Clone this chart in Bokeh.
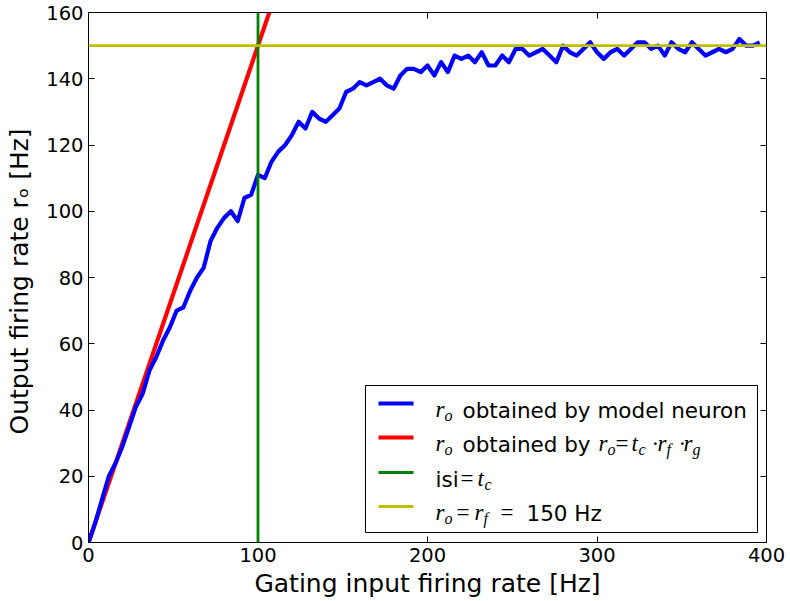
from bokeh.plotting import figure
from bokeh.models import (Range1d, LinearAxis, SingleIntervalTicker, Span, Label,
                          BoxAnnotation)
from bokeh.embed import file_html
from bokeh.resources import INLINE

# ---------------- data ----------------
gating_rate = [0, 4, 8, 12, 16, 20, 24, 28, 32, 36, 40, 44, 48, 52, 56, 60, 64, 68, 72, 76,
               80, 84, 88, 92, 96, 100, 104, 108, 112, 116, 120, 124, 128, 132, 136, 140,
               144, 148, 152, 156, 160, 164, 168, 172, 176, 180, 184, 188, 192, 196, 200,
               204, 208, 212, 216, 220, 224, 228, 232, 236, 240, 244, 248, 252, 256, 260,
               264, 268, 272, 276, 280, 284, 288, 292, 296, 300, 304, 308, 312, 316, 320,
               324, 328, 332, 336, 340, 344, 348, 352, 356, 360, 364, 368, 372, 376, 380,
               384, 388, 392, 396]
model_rate = [0, 6, 13, 20, 24, 29, 35, 41, 45, 52, 56, 61, 65, 70, 71, 76, 80, 83, 91, 95,
              98, 100, 97, 104, 105, 111, 110, 115, 118, 120, 123, 127, 125, 130, 128, 127,
              129, 131, 136, 137, 139, 138, 139, 140, 138, 137, 141, 143, 143, 142, 144,
              141, 145, 142, 147, 146, 147, 145, 148, 144, 144, 147, 145, 149, 149, 147,
              148, 149, 147, 145, 150, 148, 147, 149, 151, 148, 146, 148, 149, 147, 149,
              151, 151, 149, 150, 147, 151, 149, 148, 151, 149, 147, 148, 149, 148, 149,
              152, 150, 150, 151]
theory_x = [0, 400]
theory_y = [0, 600]
isi_rate = 100      # isi = t_c  -> 100 Hz
rf_rate = 150       # r_o = r_f = 150 Hz
x_ticks_interval = 100
y_ticks_interval = 20

# ---------------- figure ----------------
FL, FB = 88, 542   # frame left / bottom in page pixels (for legend placement)

p = figure(frame_width=678, frame_height=530, output_backend="svg", toolbar_location=None,
           x_range=Range1d(0, 400), y_range=Range1d(0, 160),
           min_border_left=88, min_border_right=24, min_border_top=12, min_border_bottom=59,
           background_fill_color="white", border_fill_color="white")
p.xgrid.visible = False
p.ygrid.visible = False
p.outline_line_color = "black"
p.outline_line_width = 1
p.outline_line_alpha = 1

TICK_FONT = "19.5px"
for ax in (p.xaxis[0], p.yaxis[0]):
    ax.major_tick_in = 6
    ax.major_tick_out = 0
    ax.minor_tick_line_color = None
    ax.major_label_text_font = "DejaVu Sans"
    ax.major_label_text_font_size = TICK_FONT
    ax.major_label_text_color = "black"
    ax.axis_line_color = "black"
    ax.major_tick_line_color = "black"
    ax.axis_label_text_font = "DejaVu Sans"
    ax.axis_label_text_font_size = "25px"
    ax.axis_label_text_font_style = "normal"
    ax.axis_label_text_color = "black"
    ax.major_label_standoff = 5

p.xaxis[0].ticker = SingleIntervalTicker(interval=x_ticks_interval, num_minor_ticks=0)
p.yaxis[0].ticker = SingleIntervalTicker(interval=y_ticks_interval, num_minor_ticks=0)
p.xaxis[0].axis_label = "Gating input firing rate [Hz]"
p.yaxis[0].axis_label = "Output firing rate r\u2092  [Hz]"
p.xaxis[0].axis_label_standoff = 4
p.yaxis[0].axis_label_standoff = 9

# tick marks (inward, no labels) on the top and right edges of the frame
for loc, iv in (("right", y_ticks_interval), ("above", x_ticks_interval)):
    ax = LinearAxis(ticker=SingleIntervalTicker(interval=iv, num_minor_ticks=0),
                    major_tick_in=6, major_tick_out=0, minor_tick_line_color=None,
                    major_label_text_color=None, major_label_text_font_size="1px",
                    major_label_standoff=0,
                    axis_line_color="black", major_tick_line_color="black")
    p.add_layout(ax, loc)

# ---------------- data lines ----------------
p.line(theory_x, theory_y, line_color="#ff0000", line_width=4.2, line_join="round")
p.line(gating_rate, model_rate, line_color="#0000ff", line_width=4.2, line_join="round")
p.add_layout(Span(location=isi_rate, dimension="height", line_color="#008000", line_width=2.8))
p.add_layout(Span(location=rf_rate, dimension="width", line_color="#bfbf00", line_width=2.8))

# ---------------- legend (built from annotations) ----------------
def box(l, r, b, t, fill, line=None, lw=1):
    p.add_layout(BoxAnnotation(left=l - FL, right=r - FL, bottom=FB - b, top=FB - t,
                               left_units="screen", right_units="screen",
                               top_units="screen", bottom_units="screen",
                               fill_color=fill, fill_alpha=1,
                               line_color=line, line_alpha=1 if line else 0, line_width=lw))

def put(txt, x, y, size, font="DejaVu Sans", style="normal"):
    p.add_layout(Label(x=x - FL, y=FB - y, x_units="screen", y_units="screen", text=txt,
                       text_font=font, text_font_size=f"{size}px", text_font_style=style,
                       text_color="black", text_baseline="alphabetic", text_align="left"))

box(365, 757, 532, 385, "white", "black", 1)
for yc, col, h in ((403, "#0000ff", 4.2), (437, "#ff0000", 4.2),
                   (472, "#008000", 2.8), (506, "#bfbf00", 2.8)):
    box(378, 413, yc + h / 2, yc - h / 2, col)

SER = "Liberation Serif"
MS, SS, TS = 23, 16, 21.5

def rsub(x, base, sub):
    put("r", x, base - 1, MS, SER, "italic")
    put(sub, x + 9, base + 5, SS, SER, "italic")

# row 1
rsub(435, 410, "o")
put("obtained by model neuron", 462, 410, TS)
# row 2
rsub(435, 444, "o")
put("obtained by", 462, 444, TS)
rsub(598, 444, "o")
put("=", 615, 443, MS, SER)
put("t", 631, 443, MS, SER, "italic")
put("c", 638, 449, SS, SER, "italic")
put("\u00b7", 651, 443, MS, SER)
rsub(657, 444, "f")
put("\u00b7", 678, 443, MS, SER)
rsub(683, 444, "g")
# row 3
put("isi", 435, 478.5, TS)
put("=", 460, 477.5, MS, SER)
put("t", 477, 477.5, MS, SER, "italic")
put("c", 484, 483.5, SS, SER, "italic")
# row 4
rsub(435, 513, "o")
put("=", 456, 512, MS, SER)
rsub(474, 513, "f")
put("=", 500, 512, MS, SER)
put("150 Hz", 526, 513, TS)

open("out.html", "w").write(file_html(p, INLINE))
